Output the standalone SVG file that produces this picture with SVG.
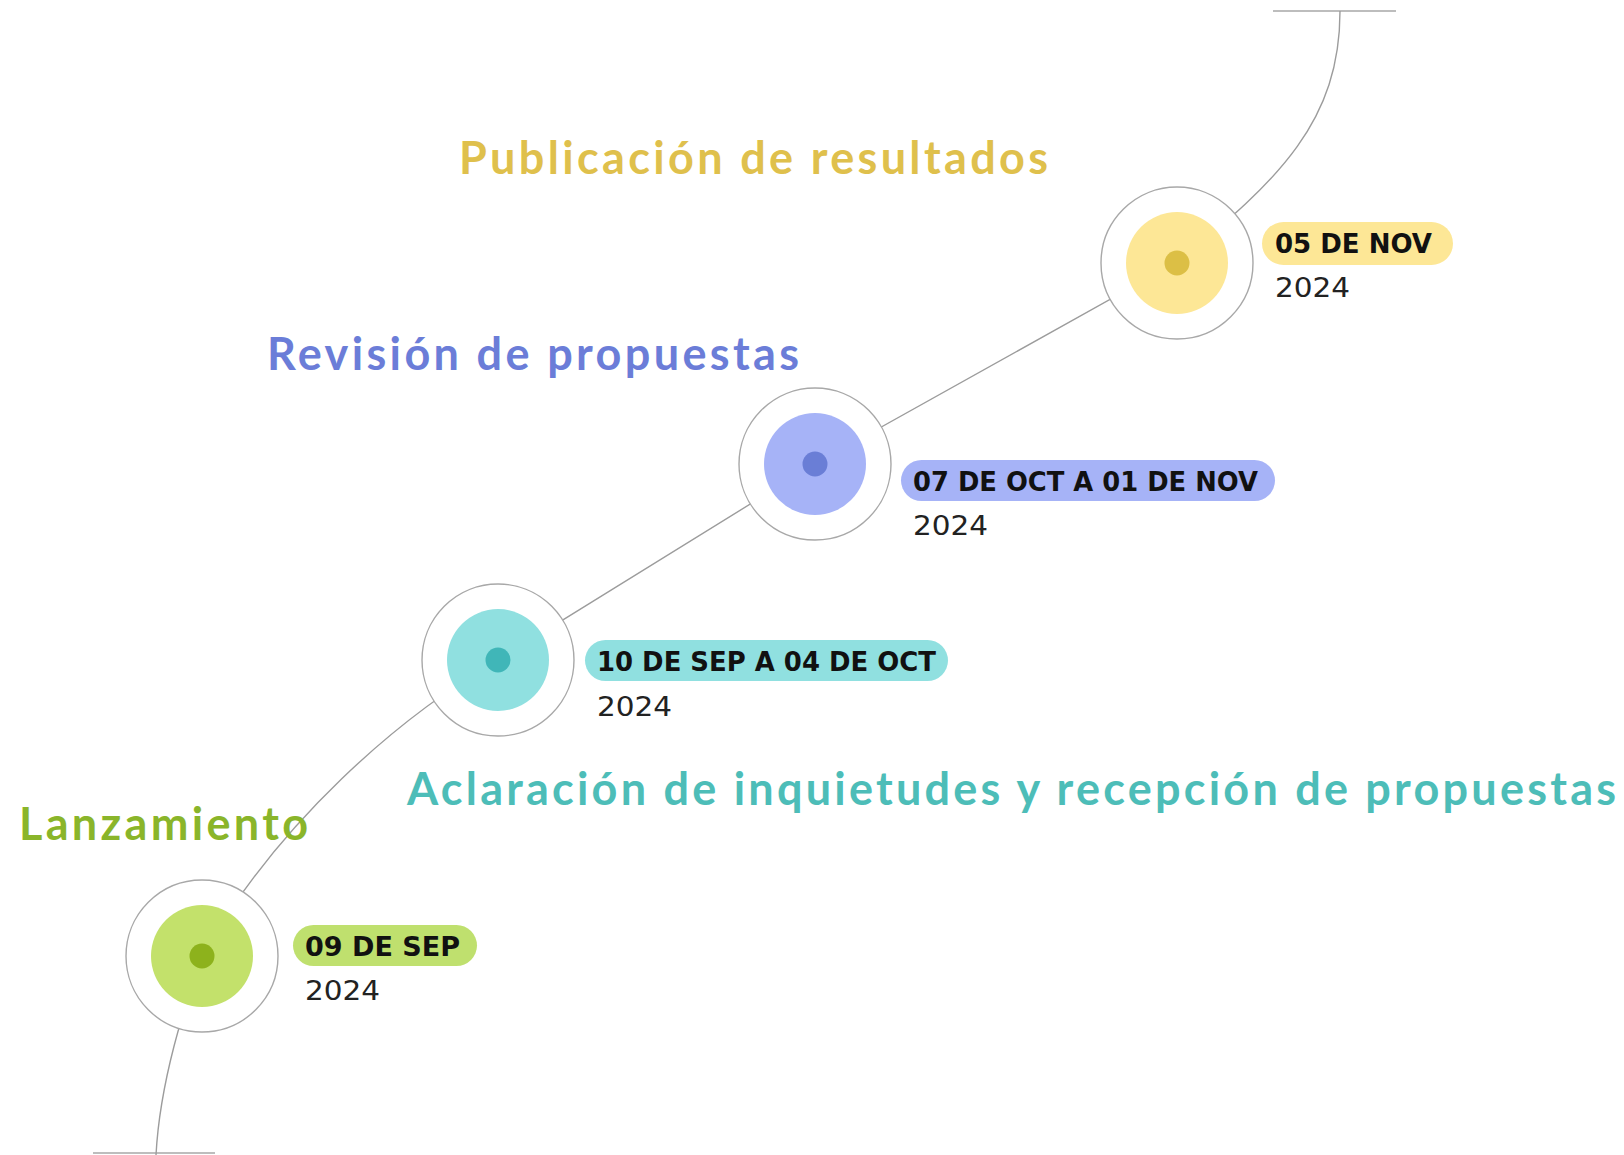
<svg xmlns="http://www.w3.org/2000/svg" width="1624" height="1155" viewBox="0 0 1624 1155">
<style>
.line{fill:none;stroke:#9c9c9c;stroke-width:1.4}
.bar{fill:none;stroke:#bdbdbd;stroke-width:2}
.ring{fill:#fff;stroke:#a8a8a8;stroke-width:1.4}
.date{font-family:"DejaVu Sans",sans-serif;font-weight:700;font-size:27px;fill:#111}
.year{font-family:"DejaVu Sans",sans-serif;font-size:27px;fill:#222}
.title{font-family:Lato,"Liberation Sans",sans-serif;font-weight:700;font-size:45px}
</style>
<rect width="1624" height="1155" fill="#fff"/>
<g id="connectors">
<line class="bar" x1="1273" y1="11" x2="1396" y2="11"/>
<line class="bar" x1="93" y1="1153" x2="215" y2="1153"/>
<path class="line" d="M1340 11 C1340 120 1280 180 1177 262 L815 464 L498 660 C400 716 278 822 202 956 C185 1005 160 1080 156 1155"/>
</g>
<g id="node-resultados">
<circle class="ring" cx="1177" cy="263" r="76"/>
<circle cx="1177" cy="263" r="51" fill="#fde796"/>
<circle cx="1177" cy="263" r="12.5" fill="#dcbf45"/>
<rect x="1262" y="222" width="191" height="43" rx="21.5" fill="#fde796"/>
<text class="date" x="1275" y="253" textLength="157" lengthAdjust="spacingAndGlyphs">05 DE NOV</text>
<text class="year" x="1275" y="297" textLength="75" lengthAdjust="spacingAndGlyphs">2024</text>
<text class="title" x="459" y="174" fill="#dfc04c" textLength="589">Publicación de resultados</text>
</g>
<g id="node-revision">
<circle class="ring" cx="815" cy="464" r="76"/>
<circle cx="815" cy="464" r="51" fill="#a6b3f7"/>
<circle cx="815" cy="464" r="12.5" fill="#6a7ed6"/>
<rect x="901" y="460" width="374" height="41" rx="20.5" fill="#a6b3f7"/>
<text class="date" x="913" y="491" textLength="345" lengthAdjust="spacingAndGlyphs">07 DE OCT A 01 DE NOV</text>
<text class="year" x="913" y="535" textLength="75" lengthAdjust="spacingAndGlyphs">2024</text>
<text class="title" x="267" y="370" fill="#6b7dd8" textLength="532">Revisión de propuestas</text>
</g>
<g id="node-aclaracion">
<circle class="ring" cx="498" cy="660" r="76"/>
<circle cx="498" cy="660" r="51" fill="#90e0e0"/>
<circle cx="498" cy="660" r="12.5" fill="#40b6b8"/>
<rect x="585" y="640" width="363" height="41" rx="20.5" fill="#90e0e0"/>
<text class="date" x="597" y="671" textLength="339" lengthAdjust="spacingAndGlyphs">10 DE SEP A 04 DE OCT</text>
<text class="year" x="597" y="716" textLength="75" lengthAdjust="spacingAndGlyphs">2024</text>
<text class="title" x="407" y="805" fill="#4dbdb8" textLength="1209">Aclaración de inquietudes y recepción de propuestas</text>
</g>
<g id="node-lanzamiento">
<circle class="ring" cx="202" cy="956" r="76"/>
<circle cx="202" cy="956" r="51" fill="#c3e16b"/>
<circle cx="202" cy="956" r="12.5" fill="#8db21c"/>
<rect x="293" y="925" width="184" height="41" rx="20.5" fill="#bfe06e"/>
<text class="date" x="305" y="956" textLength="155" lengthAdjust="spacingAndGlyphs">09 DE SEP</text>
<text class="year" x="305" y="1000" textLength="75" lengthAdjust="spacingAndGlyphs">2024</text>
<text class="title" x="19" y="840" fill="#8ab52a" textLength="289">Lanzamiento</text>
</g>
</svg>
